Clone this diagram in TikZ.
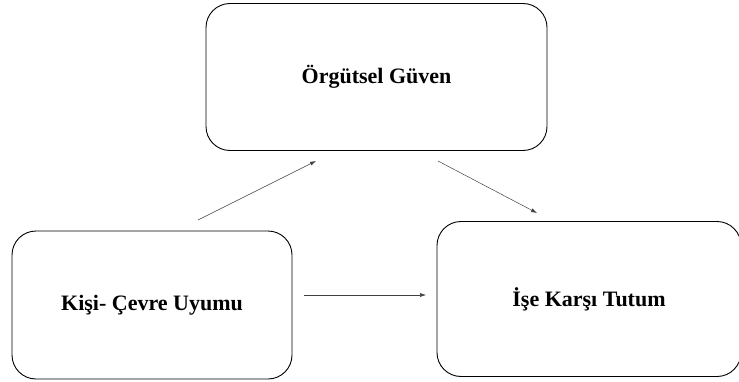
\documentclass[tikz,border=0pt]{standalone}
\usepackage{fontspec}
\setmainfont{Liberation Serif}
\usepackage{tikz}
\usetikzlibrary{arrows.meta, positioning}

\begin{document}
\begin{tikzpicture}[x=1pt, y=1pt,
  bx/.style={
    rectangle, rounded corners=24pt,
    draw=black, line width=0.9pt, align=center,
    font=\fontsize{22}{26}\selectfont\bfseries},
  ar/.style={-{Latex[length=6pt, width=4pt]}, line width=0.5pt, black!75},
]
  \useasboundingbox (0,0) rectangle (739,381);
  \node[bx, minimum width=341pt, minimum height=147pt] (guv) at (376.5,304) {Örgütsel Güven};
  \node[bx, minimum width=280pt, minimum height=148pt] (kcu) at (152,76) {Kişi- Çevre Uyumu};
  \node[bx, minimum width=304pt, minimum height=155pt] (ikt) at (589,82) {İşe Karşı Tutum};

  \coordinate (a1s) at (198,161);
  \coordinate (a1e) at (316,220);
  \coordinate (a2s) at (438,220);
  \coordinate (a2e) at (537,168);
  \coordinate (a3s) at (304,86);
  \coordinate (a3e) at (426,86);

  \draw[ar] (a1s) -- (a1e);
  \draw[ar] (a2s) -- (a2e);
  \draw[ar] (a3s) -- (a3e);
\end{tikzpicture}
\end{document}
